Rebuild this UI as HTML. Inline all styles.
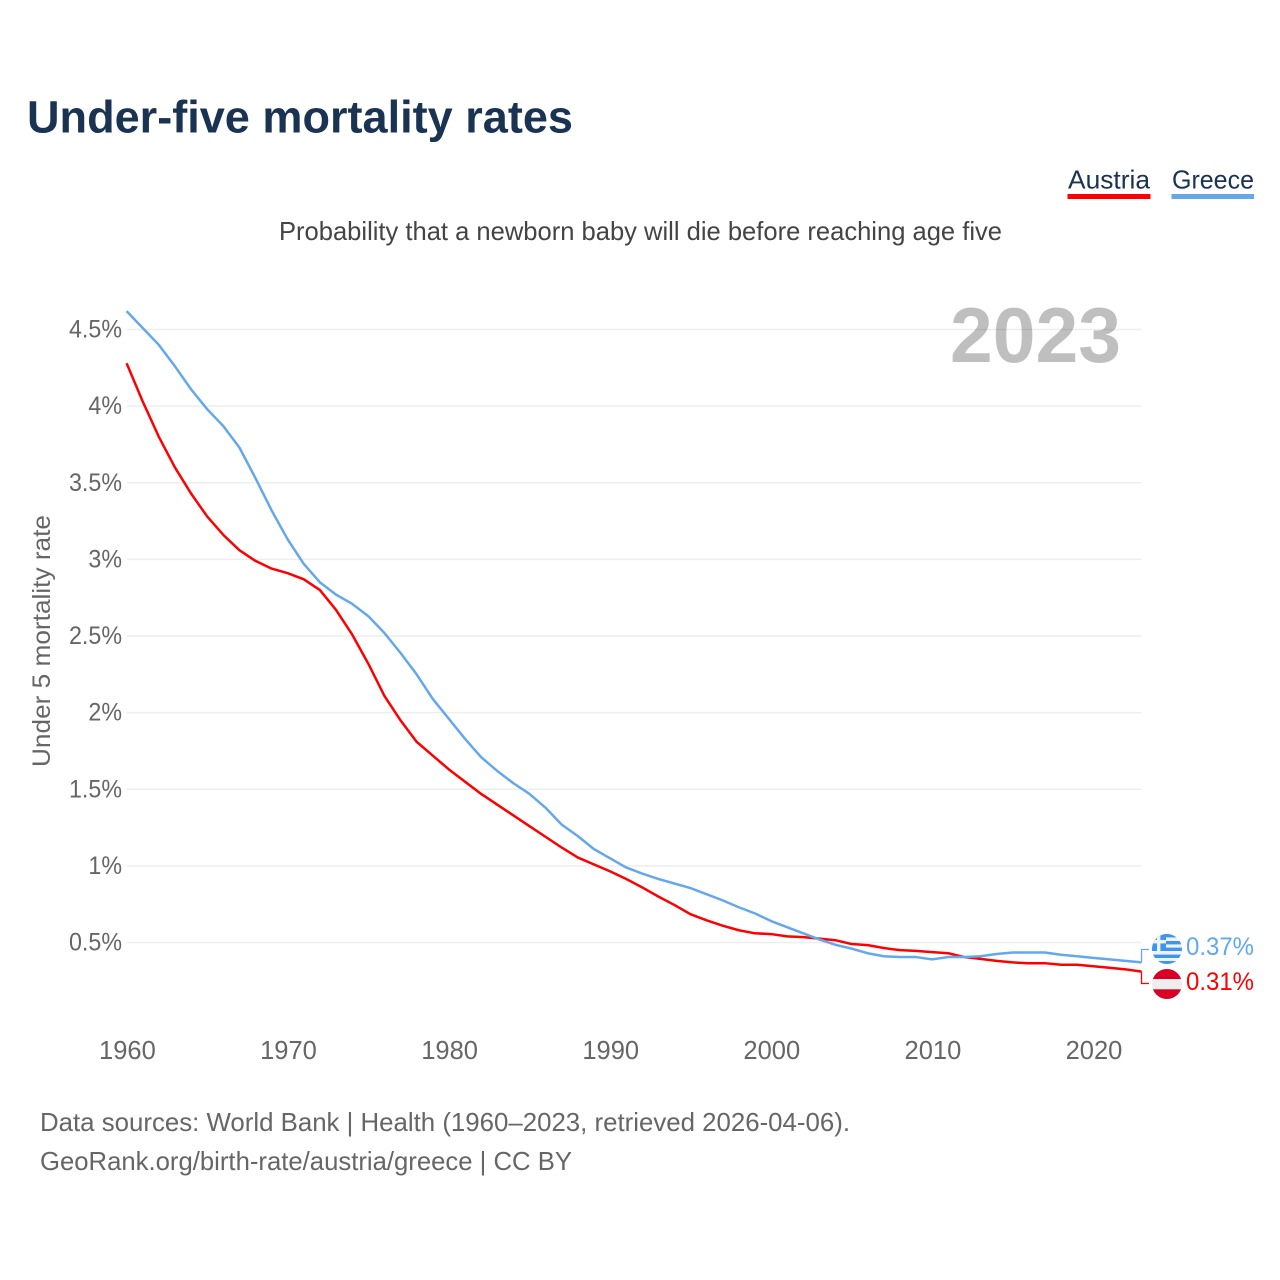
<!DOCTYPE html>
<html lang="en">
<head>
<meta charset="utf-8">
<title>Under-five mortality rates</title>
<style>
html,body{margin:0;padding:0;background:#fff;}
svg{display:block;font-family:"Liberation Sans",sans-serif;}
</style>
</head>
<body>
<svg id="chart" xmlns="http://www.w3.org/2000/svg" width="1280" height="1280" viewBox="0 0 1280 1280">
  <defs>
    <clipPath id="gr-clip"><circle cx="1167" cy="949" r="15"/></clipPath>
    <clipPath id="at-clip"><circle cx="1167" cy="984" r="15"/></clipPath>
  </defs>
  <rect x="0" y="0" width="1280" height="1280" fill="#ffffff"/>
  <text x="27" y="132.5" font-size="45" font-weight="700" fill="#1a3353" textLength="546" lengthAdjust="spacingAndGlyphs">Under-five mortality rates</text>

  <g>
    <text x="1068" y="188.5" font-size="26" fill="#1a3353" textLength="82" lengthAdjust="spacingAndGlyphs">Austria</text>
    <rect x="1067.5" y="194" width="83" height="5" fill="#ff0000"/>
  </g>
  <g>
    <text x="1172" y="188.5" font-size="26" fill="#1a3353" textLength="82" lengthAdjust="spacingAndGlyphs">Greece</text>
    <rect x="1171.5" y="194" width="82.5" height="5" fill="#64a8ec"/>
  </g>

  <text x="279" y="240" font-size="26" fill="#444444" textLength="723" lengthAdjust="spacingAndGlyphs">Probability that a newborn baby will die before reaching age five</text>

  <g id="grid"></g>
  <text x="950" y="362" font-size="78" font-weight="700" fill="#000000" fill-opacity="0.25" textLength="171" lengthAdjust="spacingAndGlyphs">2023</text>
  <g id="yticks"></g>
  <g id="xticks"></g>
  <text transform="translate(50,767) rotate(-90)" x="0" y="0" font-size="25" fill="#666666" textLength="252" lengthAdjust="spacingAndGlyphs">Under 5 mortality rate</text>

  <g id="series"></g>
  <g id="connectors"></g>

  <g clip-path="url(#gr-clip)">
    <rect x="1152" y="934" width="30" height="30" fill="#eef3f8"/>
    <rect x="1152" y="934" width="30" height="3.4" fill="#3f95ee"/>
    <rect x="1152" y="941" width="30" height="3.4" fill="#3f95ee"/>
    <rect x="1152" y="947.6" width="30" height="3.4" fill="#3f95ee"/>
    <rect x="1152" y="954.6" width="30" height="3.4" fill="#3f95ee"/>
    <rect x="1152" y="961" width="30" height="3" fill="#3f95ee"/>
    <rect x="1152" y="934" width="14" height="17" fill="#3f95ee"/>
    <rect x="1157" y="934" width="3.4" height="17" fill="#eef3f8"/>
    <rect x="1152" y="940" width="14" height="3.4" fill="#eef3f8"/>
  </g>
  <g clip-path="url(#at-clip)">
    <rect x="1152" y="969" width="30" height="30" fill="#eeeeee"/>
    <rect x="1152" y="969" width="30" height="10" fill="#d80027"/>
    <rect x="1152" y="989.3" width="30" height="10" fill="#d80027"/>
  </g>
  <text x="1186" y="955" font-size="25" fill="#64a8ec" textLength="68" lengthAdjust="spacingAndGlyphs">0.37%</text>
  <text x="1186" y="990" font-size="25" fill="#ff0000" textLength="68" lengthAdjust="spacingAndGlyphs">0.31%</text>

  <text x="40" y="1131" font-size="26" fill="#666666" textLength="810" lengthAdjust="spacingAndGlyphs">Data sources: World Bank | Health (1960–2023, retrieved 2026-04-06).</text>
  <text x="40" y="1170" font-size="26" fill="#666666" textLength="532" lengthAdjust="spacingAndGlyphs">GeoRank.org/birth-rate/austria/greece | CC BY</text>
</svg>
<script>
const years = [1960,1961,1962,1963,1964,1965,1966,1967,1968,1969,1970,1971,1972,1973,1974,1975,1976,1977,1978,1979,1980,1981,1982,1983,1984,1985,1986,1987,1988,1989,1990,1991,1992,1993,1994,1995,1996,1997,1998,1999,2000,2001,2002,2003,2004,2005,2006,2007,2008,2009,2010,2011,2012,2013,2014,2015,2016,2017,2018,2019,2020,2021,2022,2023];
const austria = [4.28,4.03,3.80,3.60,3.43,3.28,3.16,3.06,2.99,2.94,2.91,2.87,2.80,2.67,2.51,2.32,2.11,1.95,1.81,1.72,1.63,1.55,1.47,1.40,1.33,1.26,1.19,1.12,1.055,1.01,0.965,0.915,0.86,0.80,0.745,0.685,0.645,0.61,0.58,0.56,0.555,0.54,0.535,0.525,0.515,0.49,0.483,0.464,0.45,0.445,0.437,0.43,0.405,0.393,0.38,0.37,0.365,0.365,0.355,0.355,0.345,0.335,0.325,0.31];
const greece = [4.62,4.51,4.40,4.26,4.11,3.98,3.87,3.73,3.53,3.32,3.13,2.97,2.85,2.77,2.71,2.63,2.52,2.39,2.25,2.09,1.96,1.83,1.71,1.62,1.54,1.47,1.38,1.27,1.195,1.11,1.05,0.99,0.95,0.915,0.885,0.855,0.815,0.775,0.73,0.69,0.64,0.60,0.56,0.52,0.485,0.46,0.43,0.41,0.405,0.405,0.39,0.405,0.405,0.41,0.425,0.435,0.435,0.435,0.42,0.41,0.40,0.39,0.38,0.37];
const yTickValues = [0.5,1,1.5,2,2.5,3,3.5,4,4.5];
const yTickLabels = ['0.5%','1%','1.5%','2%','2.5%','3%','3.5%','4%','4.5%'];
const xTickValues = [1960,1970,1980,1990,2000,2010,2020];
const xTickLabels = ['1960','1970','1980','1990','2000','2010','2020'];

const NS = 'http://www.w3.org/2000/svg';
const xScale = function (year) { return 126.6 + (year - 1960) * 16.11; };
const yScale = function (value) { return 942.5 - (value - 0.5) * 153.25; };
const plotRight = xScale(2023);

function make(tag, parentId) {
  const el = document.createElementNS(NS, tag);
  document.getElementById(parentId).appendChild(el);
  return el;
}

yTickValues.forEach(function (v, i) {
  const line = make('line', 'grid');
  
  
  line.setAttribute('x1', xScale(1960));
  line.setAttribute('x2', plotRight);
  line.setAttribute('y1', yScale(v));
  line.setAttribute('y2', yScale(v));
  line.setAttribute('stroke', '#eeeeee');
  line.setAttribute('stroke-width', '1.5');

  const label = make('text', 'yticks');
  
  
  label.setAttribute('x', 122);
  label.setAttribute('y', yScale(v) + 8);
  label.setAttribute('text-anchor', 'end');
  label.setAttribute('font-size', '25');
  label.setAttribute('fill', '#666666');
  label.textContent = yTickLabels[i];
  label.setAttribute('textLength', (label.getComputedTextLength() * 0.93).toFixed(1));
  label.setAttribute('lengthAdjust', 'spacingAndGlyphs');
});

xTickValues.forEach(function (v, i) {
  const label = make('text', 'xticks');
  
  
  label.setAttribute('x', xScale(v) + 0.8);
  label.setAttribute('y', 1059);
  label.setAttribute('text-anchor', 'middle');
  label.setAttribute('font-size', '25.5');
  label.setAttribute('fill', '#666666');
  label.textContent = xTickLabels[i];
});

function pathFor(values) {
  return values.map(function (v, i) {
    return (i ? 'L' : 'M') + xScale(years[i]).toFixed(2) + ' ' + yScale(v).toFixed(2);
  }).join(' ');
}

const austriaLine = make('path', 'series');


austriaLine.setAttribute('d', pathFor(austria));
austriaLine.setAttribute('fill', 'none');
austriaLine.setAttribute('stroke', '#ff0000');
austriaLine.setAttribute('stroke-width', '2.5');
austriaLine.setAttribute('stroke-linejoin', 'round');

const greeceLine = make('path', 'series');


greeceLine.setAttribute('d', pathFor(greece));
greeceLine.setAttribute('fill', 'none');
greeceLine.setAttribute('stroke', '#64a8ec');
greeceLine.setAttribute('stroke-width', '2.5');
greeceLine.setAttribute('stroke-linejoin', 'round');

const greeceConnector = make('path', 'connectors');


greeceConnector.setAttribute('d', 'M' + plotRight + ' ' + yScale(greece[greece.length - 1]) + ' V949.5 H1149');
greeceConnector.setAttribute('fill', 'none');
greeceConnector.setAttribute('stroke', '#64a8ec');
greeceConnector.setAttribute('stroke-width', '1.3');

const austriaConnector = make('path', 'connectors');


austriaConnector.setAttribute('d', 'M' + plotRight + ' ' + yScale(austria[austria.length - 1]) + ' V983.5 H1149');
austriaConnector.setAttribute('fill', 'none');
austriaConnector.setAttribute('stroke', '#ff0000');
austriaConnector.setAttribute('stroke-width', '1.3');
</script>
</body>
</html>
